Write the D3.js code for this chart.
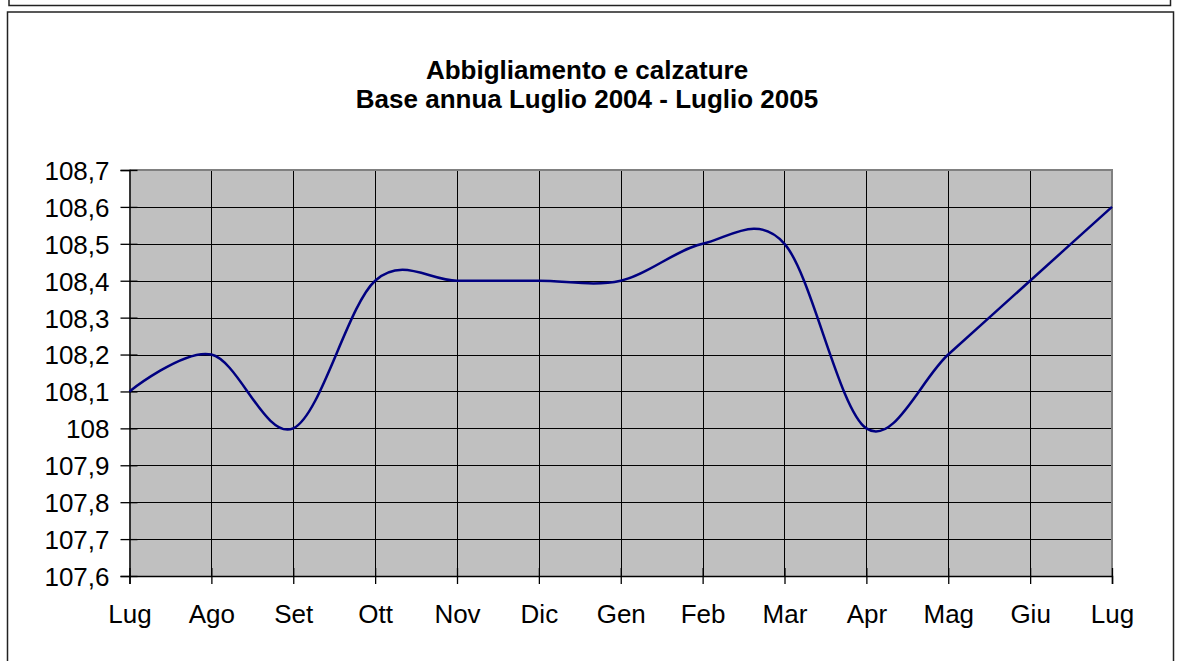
<!DOCTYPE html>
<html>
<head>
<meta charset="utf-8">
<script src="https://cdn.jsdelivr.net/npm/d3@7"></script>
<style>
  html, body { margin: 0; padding: 0; background: #fff; }
  svg { display: block; }
  text { font-family: "Liberation Sans", Arial, sans-serif; fill: #000; }
</style>
</head>
<body>
<svg id="chart" width="1179" height="661"></svg>
<script>
const months = ["Lug","Ago","Set","Ott","Nov","Dic","Gen","Feb","Mar","Apr","Mag","Giu","Lug"];
const values = [108.1,108.2,108.0,108.4,108.4,108.4,108.4,108.5,108.5,108.0,108.2,108.4,108.6];
const yTicks = [107.6,107.7,107.8,107.9,108.0,108.1,108.2,108.3,108.4,108.5,108.6,108.7];
const titleLines = ["Abbigliamento e calzature","Base annua Luglio 2004 - Luglio 2005"];

const svg = d3.select("#chart");
const plot = {left: 129.5, right: 1112, top: 170, bottom: 576};
const FS = 26;

// outer frames
svg.append("rect").attr("x", 9).attr("y", -10).attr("width", 1161.5).attr("height", 15.5)
  .attr("fill", "none").attr("stroke", "#222").attr("stroke-width", 1.5);
svg.append("rect").attr("x", 7.5).attr("y", 12).attr("width", 1166).attr("height", 660)
  .attr("fill", "#fff").attr("stroke", "#222").attr("stroke-width", 1.5);

// title
svg.append("g").selectAll("text").data(titleLines).join("text")
  .attr("x", 587).attr("y", (d, i) => 79 + i * 29)
  .attr("text-anchor", "middle").attr("font-size", FS).attr("font-weight", "bold")
  .text(d => d);

const idx = months.map((m, i) => i);
const x = d3.scaleLinear().domain([0, months.length - 1]).range([plot.left, plot.right]);
const y = d3.scaleLinear().domain([107.6, 108.7]).range([plot.bottom, plot.top]);

// plot background
svg.append("rect").attr("x", plot.left).attr("y", plot.top)
  .attr("width", plot.right - plot.left).attr("height", plot.bottom - plot.top)
  .attr("fill", "#c0c0c0");

// gridlines
svg.append("g").selectAll("line").data(yTicks.slice(1, -1)).join("line")
  .attr("x1", plot.left).attr("x2", plot.right)
  .attr("y1", d => Math.round(y(d)) + 0.5).attr("y2", d => Math.round(y(d)) + 0.5)
  .attr("stroke", "#000").attr("stroke-width", 1);
svg.append("g").selectAll("line").data(idx.slice(1, -1)).join("line")
  .attr("x1", d => Math.round(x(d)) + 0.5).attr("x2", d => Math.round(x(d)) + 0.5)
  .attr("y1", plot.top).attr("y2", plot.bottom)
  .attr("stroke", "#000").attr("stroke-width", 1);

// plot border top/right (gray)
svg.append("path")
  .attr("d", `M${plot.left},${plot.top}H${plot.right}V${plot.bottom}`)
  .attr("fill", "none").attr("stroke", "#808080").attr("stroke-width", 2);

// axes
const yAxis = d3.axisLeft(y).tickValues(yTicks).tickSize(9).tickPadding(11)
  .tickFormat(d => d3.format(".1f")(d).replace(".", ",").replace(",0", ""));
const gy = svg.append("g").attr("transform", `translate(${plot.left},0)`).call(yAxis);
gy.select(".domain").attr("stroke", "#000").attr("stroke-width", 1.5);
gy.selectAll(".tick line").attr("x2", -9).attr("x1", 8).attr("stroke", "#000").attr("stroke-width", 1.3);
gy.selectAll("text").attr("font-size", FS).attr("dy", "0.36em")
  .attr("font-family", "Liberation Sans, Arial, sans-serif").attr("fill", "#000");

const xAxis = d3.axisBottom(x).tickValues(idx).tickSize(8).tickPadding(20)
  .tickFormat(i => months[i]);
const gx = svg.append("g").attr("transform", `translate(0,${plot.bottom})`).call(xAxis);
gx.select(".domain").attr("stroke", "#000").attr("stroke-width", 1.5);
gx.selectAll(".tick line").attr("y1", -8).attr("y2", 8).attr("stroke", "#000").attr("stroke-width", 1.3);
gx.selectAll("text").attr("font-size", FS).attr("dy", null).attr("y", 47)
  .attr("font-family", "Liberation Sans, Arial, sans-serif").attr("fill", "#000");

// smoothed line
const line = d3.line().x((d, i) => x(i)).y(d => y(d)).curve(d3.curveCardinal.tension(0));
svg.append("path").datum(values).attr("d", line)
  .attr("fill", "none").attr("stroke", "#000080").attr("stroke-width", 2.5);
</script>
</body>
</html>
